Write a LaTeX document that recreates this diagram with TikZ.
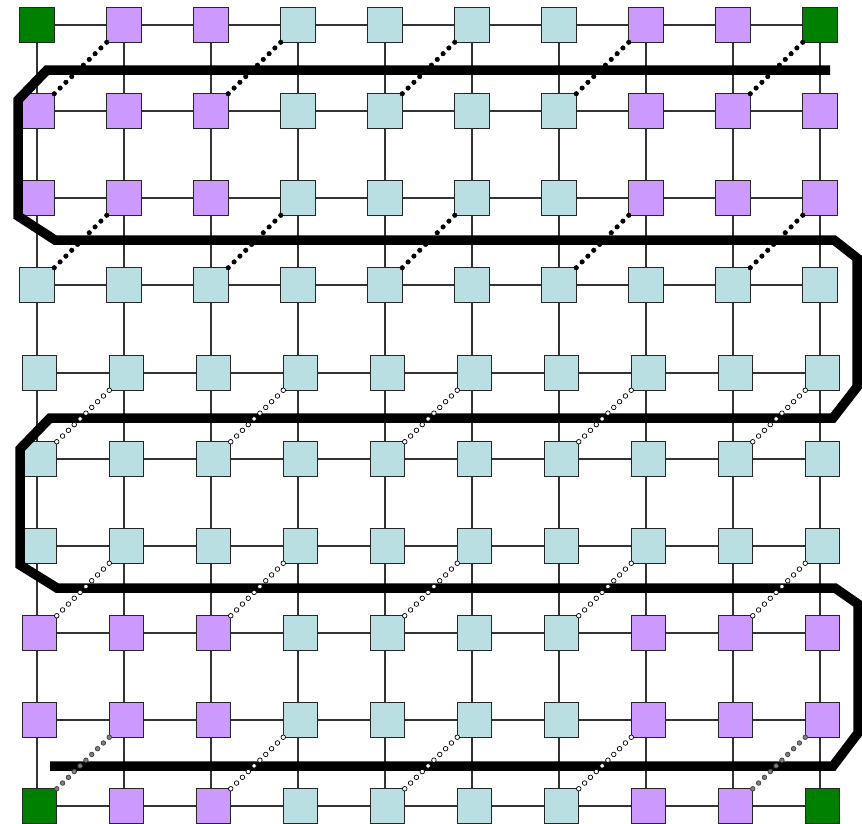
\documentclass[tikz,border=0pt]{standalone}
\usetikzlibrary{calc}
\definecolor{gr}{RGB}{0,128,0}
\definecolor{pu}{RGB}{204,153,255}
\definecolor{lb}{RGB}{185,223,227}
\pgfdeclarelayer{bg}
\pgfsetlayers{bg,main}
\begin{document}
\begin{tikzpicture}[x=1pt,y=-1pt,
  sq/.style={draw=black!85, line width=0.9pt, minimum size=34.5pt, inner sep=0pt, outer sep=0pt},
  gridline/.style={draw=black!80, line width=1.2pt},
  snake/.style={line width=9.5pt, line join=miter, line cap=butt},
  fdot/.style={fill=black, draw=black, line width=0.4pt},
  odot/.style={fill=white, draw=black, line width=0.7pt},
  gdot/.style={fill=black!50, draw=black!75, line width=0.7pt}]
\useasboundingbox (0,0) rectangle (862,823);
% grid points and squares
\foreach \r/\y in {0/25,1/111,2/198,3/285,4/373,5/459,6/546,7/633,8/720,9/806}{
  \foreach \c in {0,...,9}{
    \pgfmathsetmacro\xx{37+87*\c}
    \pgfmathsetmacro\dx{\r>3 ? 2.5 : 0}
    \pgfmathtruncatemacro\edge{((\c<3 || \c>6) && (\r<3 || \r>6)) ? 1 : 0}
    \pgfmathtruncatemacro\corner{((\c==0 || \c==9) && (\r==0 || \r==9)) ? 1 : 0}
    \ifnum\corner=1 \def\fc{gr}\else\ifnum\edge=1 \def\fc{pu}\else\def\fc{lb}\fi\fi
    \coordinate (g-\r-\c) at (\xx,\y);
    \node[sq, fill=\fc] (s-\r-\c) at (\xx+\dx,\y) {};
  }
}
% grid lines
\begin{pgfonlayer}{bg}
\foreach \r in {0,...,9}{
  \foreach \c [evaluate=\c as \cn using int(\c+1)] in {0,...,8}{
    \draw[gridline] (g-\r-\c) -- (g-\r-\cn);
    \draw[gridline] (g-\c-\r) -- (g-\cn-\r);
  }
}
\end{pgfonlayer}
% snake path
\coordinate (p0) at (830,70);
\coordinate (p1) at (47,70);
\coordinate (p2) at (18,100);
\coordinate (p3) at (18,216);
\coordinate (p4) at (55,240);
\coordinate (p5) at (834,240);
\coordinate (p6) at (857,258);
\coordinate (p7) at (857,387);
\coordinate (p8) at (833,418);
\coordinate (p9) at (50,418);
\coordinate (p10) at (20,449);
\coordinate (p11) at (20,565);
\coordinate (p12) at (57,588);
\coordinate (p13) at (835,588);
\coordinate (p14) at (858,604);
\coordinate (p15) at (858,733);
\coordinate (p16) at (833,766);
\coordinate (p17) at (50,766);
\draw[snake] (p0) -- (p1) -- (p2) -- (p3) -- (p4) -- (p5) -- (p6) -- (p7) -- (p8)
  -- (p9) -- (p10) -- (p11) -- (p12) -- (p13) -- (p14) -- (p15) -- (p16) -- (p17);
% dotted diagonals
\foreach \r in {0,2,4,6,8}{
  \foreach \k in {1,3,5,7,9}{
    \pgfmathtruncatemacro\rn{\r+1}
    \pgfmathtruncatemacro\km{\k-1}
    \ifnum\r<4 \def\ds{fdot}\else
      \ifnum\r<8 \def\ds{odot}\else
        \ifnum\k=1 \def\ds{gdot}\else\ifnum\k=9 \def\ds{gdot}\else\def\ds{odot}\fi\fi
      \fi\fi
    \foreach \i in {0,...,9}{
      \path[\ds] ($(s-\r-\k.south west)!\i/9!(s-\rn-\km.north east)$) circle (2.3);
    }
  }
}
\end{tikzpicture}
\end{document}
